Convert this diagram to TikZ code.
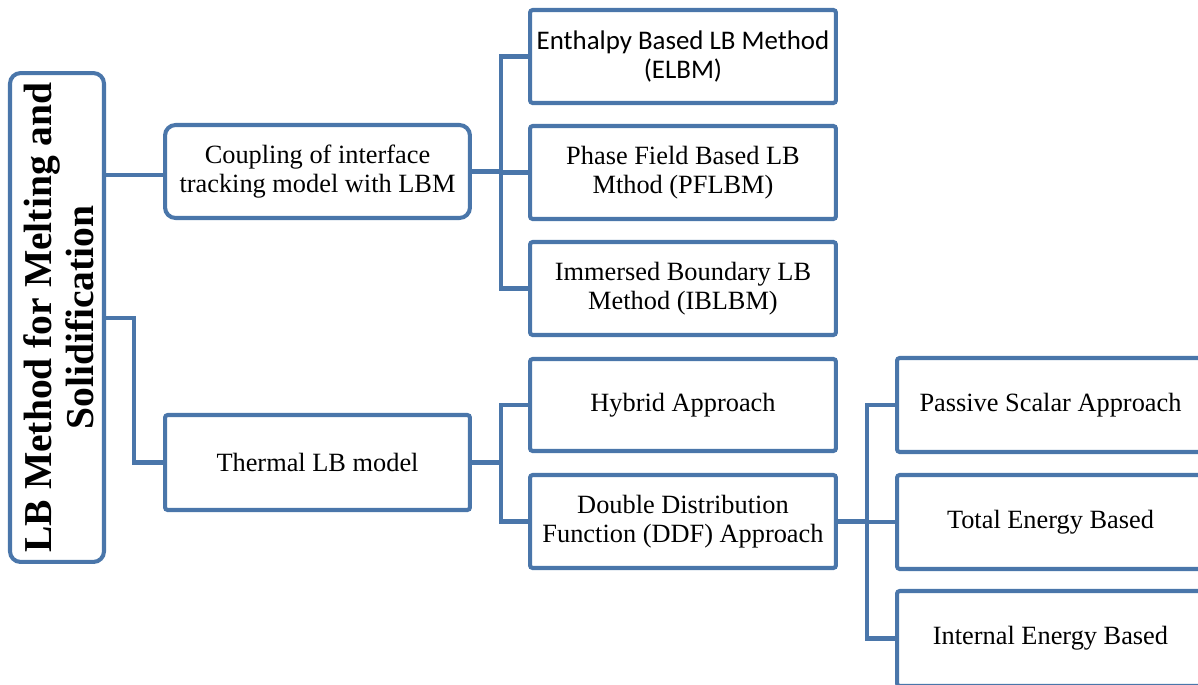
\documentclass[tikz,border=0pt]{standalone}
\usepackage{fontspec}
\setmainfont{Liberation Serif}
\newfontfamily\carlito{Carlito}
\definecolor{boxblue}{RGB}{74,118,170}
\begin{document}
\begin{tikzpicture}[x=0.02cm,y=-0.02cm,
  box/.style={draw=boxblue, line width=2.3pt, inner sep=0pt, align=center, rounded corners=1.5pt,
    minimum width=6.12cm, minimum height=1.86cm, font=\fontsize{15}{16.5}\selectfont},
  rbox/.style={box, rounded corners=6pt},
  sbox/.style={box, font=\carlito\fontsize{15.3}{16}\selectfont},
  wbox/.style={box, minimum width=6.14cm, minimum height=1.88cm},
  link/.style={draw=boxblue, line width=2.3pt},
  roottxt/.style={rotate=90, align=center, inner sep=0pt, font=\fontsize{22.5}{24}\selectfont\bfseries}]
\useasboundingbox (0,0) rectangle (1198,684);
\clip (0,0) rectangle (1198,684);
% nodes
\node[rbox, minimum width=1.88cm, minimum height=9.78cm] (root) at (57,317.5) {};
\node[roottxt] (roottext) at ([xshift=0.04cm]root.center) {LB Method for Melting and\\Solidification};
\node[rbox, minimum width=6.1cm, minimum height=1.86cm] (coup) at (317.5,171.5) {Coupling of interface\\tracking model with LBM};
\node[box, minimum width=6.1cm, minimum height=1.9cm] (therm) at (317.5,462.5) {Thermal LB model};
\node[sbox] (enth) at (683,56.5) {Enthalpy Based LB Method\\(ELBM)};
\node[box] (phase) at (683,172.5) {Phase Field Based LB\\Mthod (PFLBM)};
\node[box] (imm) at (683,288.5) {Immersed Boundary LB\\Method (IBLBM)};
\node[box, minimum height=1.84cm] (hyb) at (683,405) {Hybrid Approach};
\node[box] (ddf) at (683,521.5) {Double Distribution\\Function (DDF) Approach};
\node[wbox] (pas) at (1050.5,405) {Passive Scalar Approach};
\node[wbox] (tot) at (1050.5,522) {Total Energy Based};
\node[wbox, minimum height=1.9cm] (int) at (1050.5,638.5) {Internal Energy Based};
% junctions
\coordinate (j1) at (134,318);
\coordinate (j2) at (501,172);
\coordinate (j3) at (501,463);
\coordinate (j4) at (867,522);
% connectors
\draw[link] (root.east |- 0,175) -- (coup.west |- 0,175);
\draw[link] (root.east |- j1) -- (j1) |- (therm.west);
\draw[link] (coup.east) -- (coup.east -| j2);
\draw[link] (phase.west) -- (phase.west -| j2);
\draw[link] (enth.west) -| (j2) |- (imm.west);
\draw[link] (therm.east) -- (therm.east -| j3);
\draw[link] (hyb.west) -| (j3) |- (ddf.west);
\draw[link] (ddf.east) -- (ddf.east -| j4);
\draw[link] (tot.west) -- (tot.west -| j4);
\draw[link] (pas.west) -| (j4) |- (int.west);
\end{tikzpicture}
\end{document}
